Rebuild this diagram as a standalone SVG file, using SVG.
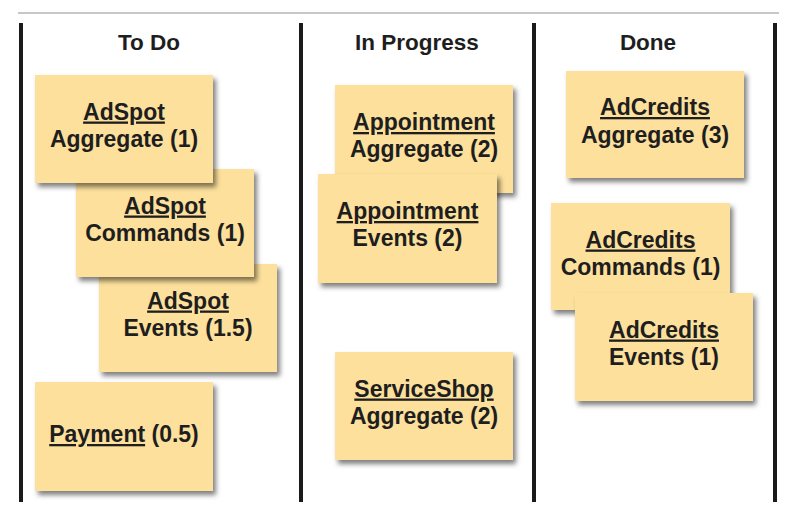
<svg xmlns="http://www.w3.org/2000/svg" width="800" height="514" viewBox="0 0 800 514">
<defs>
<filter id="sh" x="-10%" y="-10%" width="125%" height="130%">
<feDropShadow dx="3" dy="4" stdDeviation="2.5" flood-color="#000" flood-opacity="0.5"/>
</filter>
</defs>
<style>
.note rect{fill:#FCE09C;filter:url(#sh)}
.note text{font-family:"Liberation Sans",Arial,sans-serif;font-weight:bold;font-size:23px;fill:#1e1e1e;text-anchor:middle}
.u{text-decoration:underline}
.head{font-family:"Liberation Sans",Arial,sans-serif;font-weight:bold;font-size:22.5px;fill:#1e1e1e;text-anchor:middle}
.bar{stroke:#1a1a1a;stroke-width:4}
</style>
<rect width="800" height="514" fill="#fff"/>
<g id="frame">
<line x1="18" y1="13" x2="779" y2="13" stroke="#b4b4b4" stroke-width="1.5"/>
<line class="bar" x1="21" y1="23" x2="21" y2="502"/>
<line class="bar" x1="301" y1="23" x2="301" y2="502"/>
<line class="bar" x1="534" y1="23" x2="534" y2="502"/>
<line class="bar" x1="775" y1="23" x2="775" y2="502"/>
</g>
<g id="headings">
<text class="head" x="149" y="50">To Do</text>
<text class="head" x="417" y="50">In Progress</text>
<text class="head" x="648" y="50">Done</text>
</g>
<g id="connectors"></g>
<g id="adspot-events" class="note">
<rect x="99" y="264" width="178" height="108"/>
<text x="188" y="308.5"><tspan class="u">AdSpot</tspan></text>
<text x="188" y="336">Events (1.5)</text>
</g>
<g id="adspot-commands" class="note">
<rect x="76" y="169" width="178" height="108"/>
<text x="165" y="213.5"><tspan class="u">AdSpot</tspan></text>
<text x="165" y="241">Commands (1)</text>
</g>
<g id="adspot-aggregate" class="note">
<rect x="35" y="75" width="178" height="108"/>
<text x="124" y="119.5"><tspan class="u">AdSpot</tspan></text>
<text x="124" y="147">Aggregate (1)</text>
</g>
<g id="payment" class="note">
<rect x="35" y="382" width="178" height="109"/>
<text x="124" y="442"><tspan class="u">Payment</tspan> (0.5)</text>
</g>
<g id="appointment-aggregate" class="note">
<rect x="335" y="85" width="178" height="108"/>
<text x="424" y="130"><tspan class="u">Appointment</tspan></text>
<text x="424" y="157">Aggregate (2)</text>
</g>
<g id="appointment-events" class="note">
<rect x="318" y="174" width="179" height="109"/>
<text x="407.5" y="219"><tspan class="u">Appointment</tspan></text>
<text x="407.5" y="246">Events (2)</text>
</g>
<g id="serviceshop-aggregate" class="note">
<rect x="335" y="352" width="178" height="108"/>
<text x="424" y="396.5"><tspan class="u">ServiceShop</tspan></text>
<text x="424" y="424">Aggregate (2)</text>
</g>
<g id="adcredits-aggregate" class="note">
<rect x="566" y="71" width="178" height="107"/>
<text x="655" y="115"><tspan class="u">AdCredits</tspan></text>
<text x="655" y="142.5">Aggregate (3)</text>
</g>
<g id="adcredits-commands" class="note">
<rect x="551" y="203" width="179" height="107"/>
<text x="640.5" y="247.5"><tspan class="u">AdCredits</tspan></text>
<text x="640.5" y="275">Commands (1)</text>
</g>
<g id="adcredits-events" class="note">
<rect x="575" y="293" width="178" height="108"/>
<text x="664" y="337.5"><tspan class="u">AdCredits</tspan></text>
<text x="664" y="365">Events (1)</text>
</g>
</svg>
